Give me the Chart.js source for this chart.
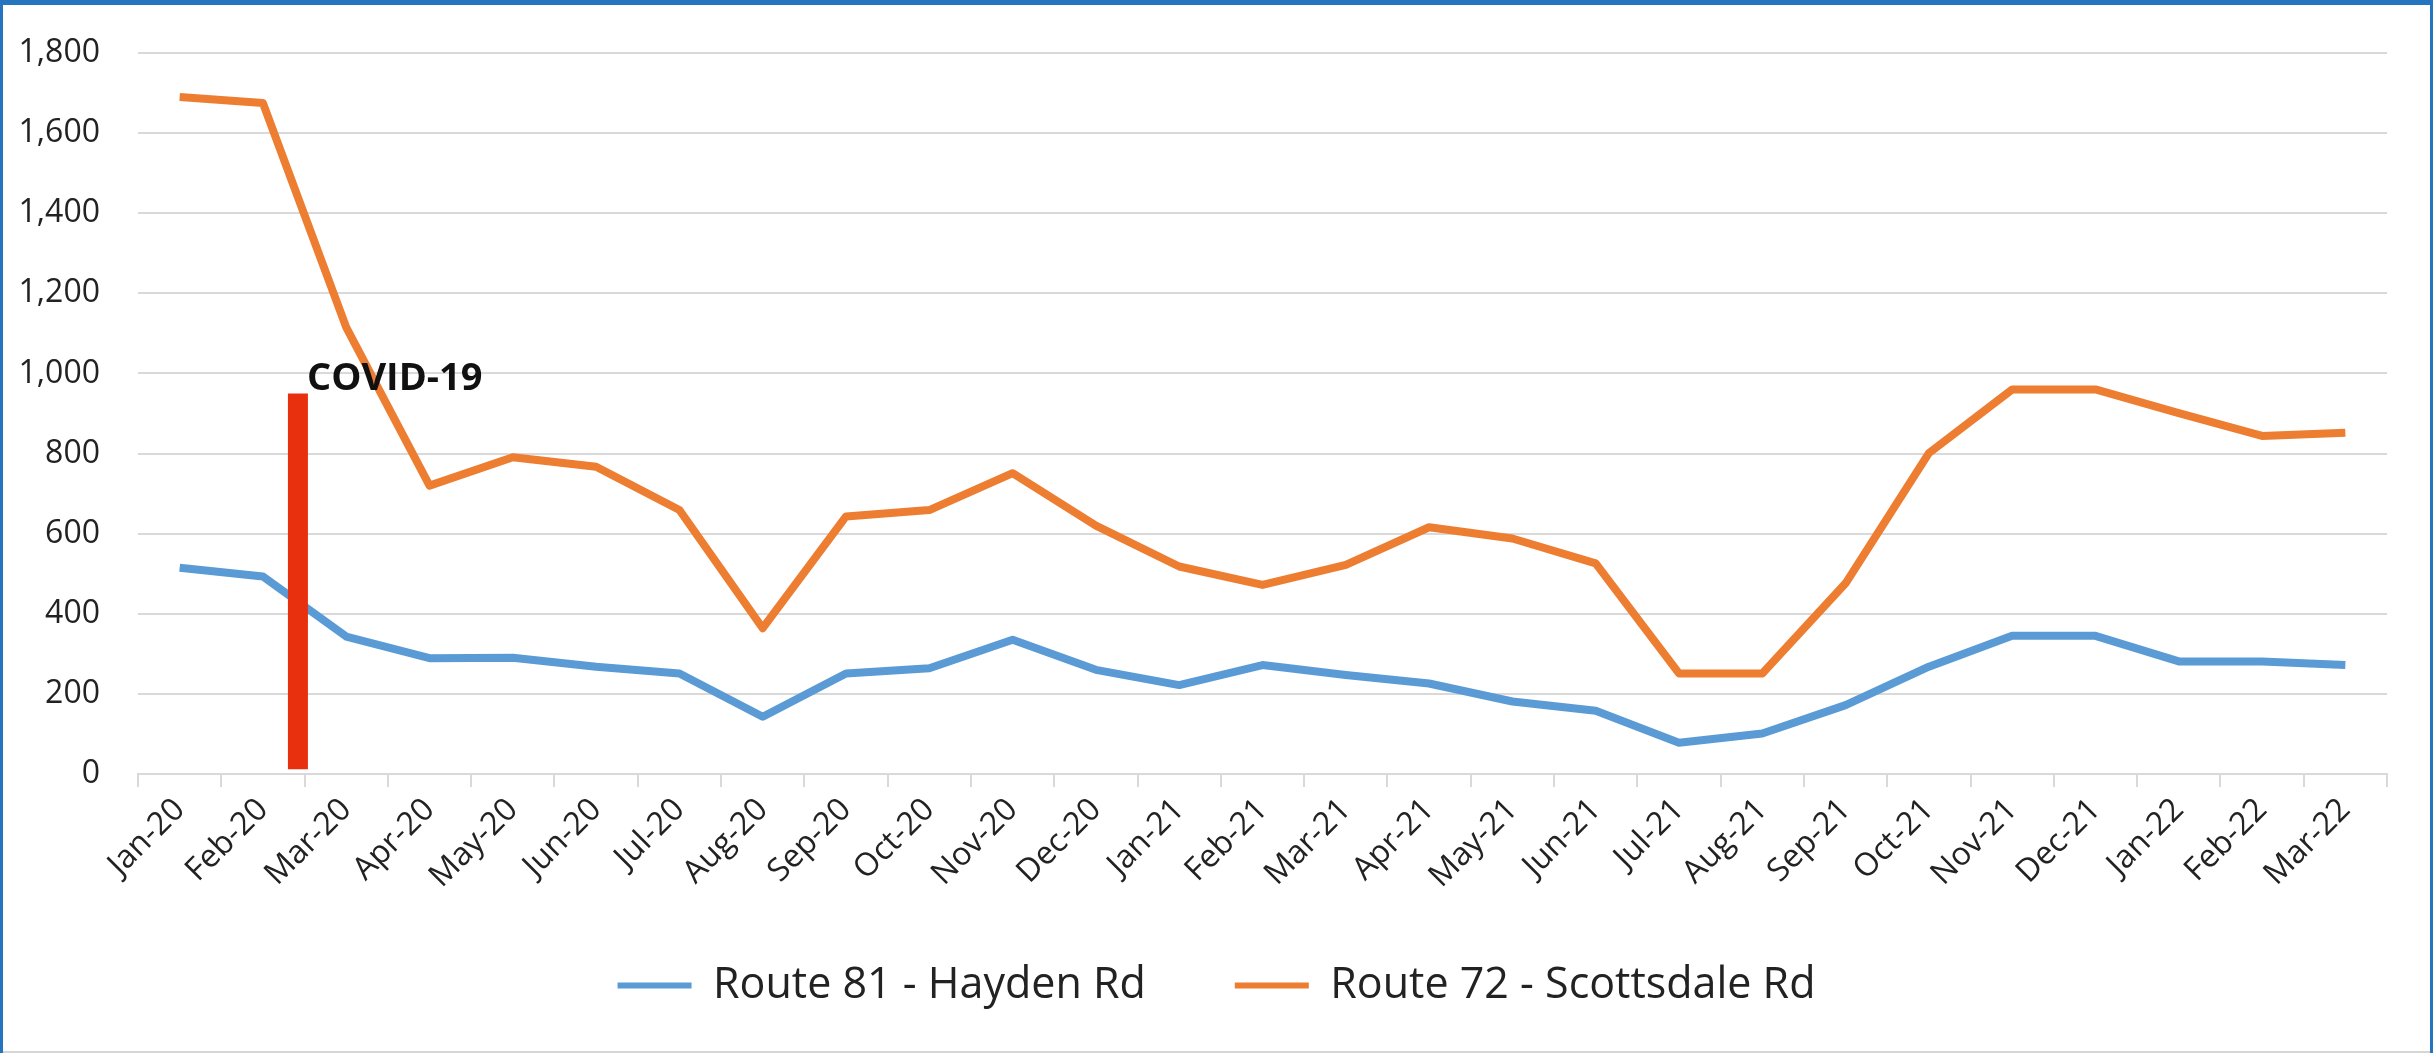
<!DOCTYPE html>
<html>
<head>
<meta charset="utf-8">
<script src="https://cdn.jsdelivr.net/npm/chart.js@4.4.1/dist/chart.umd.min.js"></script>
<style>
  body { margin: 0; background: #2574c0; width: 2433px; height: 1053px; overflow: hidden; }
  #wrap { position: absolute; left: 3px; top: 5px; width: 2427px; height: 1046px; background: #fff; border-bottom: 2px solid #d6d6d6; }
  canvas { display: block; }
</style>
</head>
<body>
<div id="wrap"><canvas id="chart" width="2427" height="1046"></canvas></div>
<script>
// monthly values
var months = ["Jan-20", "Feb-20", "Mar-20", "Apr-20", "May-20", "Jun-20", "Jul-20", "Aug-20", "Sep-20", "Oct-20", "Nov-20", "Dec-20",
  "Jan-21", "Feb-21", "Mar-21", "Apr-21", "May-21", "Jun-21", "Jul-21", "Aug-21", "Sep-21", "Oct-21", "Nov-21", "Dec-21",
  "Jan-22", "Feb-22", "Mar-22"];
var hayden = [515, 493, 343, 289, 290, 268, 251, 143, 251, 264, 335, 260, 222, 272, 247, 226, 181, 158, 78, 101, 172, 268, 345, 345, 281, 281, 272];
var scottsdale = [1690, 1675, 1115, 720, 791, 767, 659, 364, 643, 659, 751, 620, 518, 472, 522, 616, 588, 526, 251, 251, 476, 801, 960, 960, 901, 844, 852];
var seriesNames = ["Route 81 - Hayden Rd", "Route 72 - Scottsdale Rd"];
var yMin = 0, yMax = 1800, yStep = 200;

// covid marker: position in month units, and its low/high value
var covidAt = 1.42;
var covidSpan = [12, 950];
var covidText = "COVID-19";

Chart.defaults.font.family = '"Open Sans", sans-serif';
Chart.defaults.color = '#333333';

var covidLabel = {
  id: 'covidLabel',
  afterDatasetsDraw: function (chart) {
    var ctx = chart.ctx;
    var x = chart.scales.xCovid.getPixelForValue(covidAt) + 9;
    var y = chart.scales.y.getPixelForValue(covidSpan[1]) - 3;
    ctx.save();
    ctx.font = 'bold 38px "Open Sans", sans-serif';
    ctx.fillStyle = '#111111';
    ctx.textAlign = 'left';
    ctx.textBaseline = 'alphabetic';
    ctx.fillText(covidText, x, y);
    ctx.restore();
  }
};

// legend row sits closer to the axis than chart.js would put it
var legendLift = {
  id: 'legendLift',
  afterLayout: function (chart) {
    var lg = chart.legend;
    var h = lg.bottom - lg.top;
    lg.top = 870;
    lg.bottom = lg.top + h;
  }
};

var ctx = document.getElementById('chart').getContext('2d');
var chart = new Chart(ctx, {
  type: 'line',
  data: {
    labels: months,
    datasets: [
      {
        label: 'covid',
        data: [{ x: covidAt, y: covidSpan[0] }, { x: covidAt, y: covidSpan[1] }],
        xAxisID: 'xCovid',
        borderColor: '#e8300f',
        backgroundColor: '#e8300f',
        borderWidth: 20,
        borderCapStyle: 'butt',
        pointRadius: 0,
        order: 0
      },
      {
        label: seriesNames[0],
        data: hayden,
        borderColor: '#5b9bd5',
        backgroundColor: '#5b9bd5',
        borderWidth: 8,
        borderJoinStyle: 'round',
        pointRadius: 0,
        tension: 0,
        order: 1
      },
      {
        label: seriesNames[1],
        data: scottsdale,
        borderColor: '#ed7d31',
        backgroundColor: '#ed7d31',
        borderWidth: 8,
        borderJoinStyle: 'round',
        pointRadius: 0,
        tension: 0,
        order: 1
      }
    ]
  },
  options: {
    responsive: false,
    animation: false,
    layout: { padding: { left: 0, right: 0, top: 48, bottom: 0 } },
    plugins: {
      tooltip: { enabled: false },
      legend: {
        position: 'bottom',
        maxHeight: 140,
        labels: {
          boxWidth: 74,
          boxHeight: 6,
          padding: 89,
          color: '#222222',
          font: { size: 43 },
          filter: function (item) { return item.text !== 'covid'; },
          generateLabels: function (chart) {
            var items = Chart.defaults.plugins.legend.labels.generateLabels(chart);
            items.forEach(function (it) { it.lineWidth = 0; });
            return items;
          }
        }
      }
    },
    scales: {
      x: {
        type: 'category',
        offset: true,
        grid: { display: true, drawOnChartArea: false, drawTicks: true, tickLength: 13, offset: true, color: '#d9d9d9', lineWidth: 2 },
        border: { display: true, color: '#d9d9d9', width: 2 },
        ticks: { minRotation: 45, maxRotation: 45, autoSkip: false, padding: 4, font: { size: 32 }, color: '#222222' },
        afterFit: function (scale) { scale.height = 137; }
      },
      xCovid: {
        type: 'linear',
        display: false,
        min: -0.5,
        max: months.length - 0.5
      },
      y: {
        min: yMin,
        max: yMax,
        grid: { color: '#d9d9d9', lineWidth: 2, drawTicks: false },
        border: { display: false },
        ticks: {
          stepSize: yStep,
          padding: 38,
          font: { size: 32 },
          color: '#222222',
          callback: function (v) { return v.toLocaleString('en-US'); }
        },
        afterFit: function (scale) {
          scale.width = 135;
          // tick padding would otherwise push the plot top down
          scale.paddingTop = 0;
          scale.paddingBottom = 0;
        }
      },
      // empty strip on the right so the plot ends where the original does
      yPad: {
        position: 'right',
        display: true,
        grid: { display: false },
        border: { display: false },
        ticks: { display: false },
        afterFit: function (scale) {
          scale.width = 43;
          scale.paddingTop = 0;
          scale.paddingBottom = 0;
        }
      }
    }
  },
  plugins: [covidLabel, legendLift]
});
</script>
</body>
</html>
